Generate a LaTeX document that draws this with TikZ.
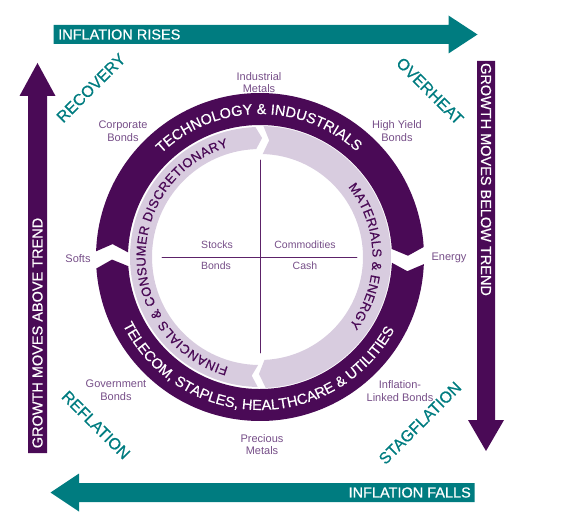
\documentclass[tikz,border=0pt]{standalone}
\usepackage{fontspec}
\setmainfont{Liberation Sans}
\newfontfamily\heavycaps[FakeBold=0.6]{Liberation Sans}

\definecolor{infteal}{RGB}{0,124,128}
\definecolor{ringdark}{RGB}{74,10,86}
\definecolor{ringlight}{RGB}{216,204,223}
\definecolor{assetpurple}{RGB}{118,78,136}
\definecolor{quadpurple}{RGB}{92,34,104}

\newcommand\ringcaps{\heavycaps\fontsize{14.5}{14.5}\selectfont\color{white}}
\newcommand\innercaps{\heavycaps\fontsize{13}{13}\selectfont\color{ringdark}}

% letters set one by one round a circle about the origin
% #1 name, #2 baseline radius, #3 centre angle, #4 span in degrees (0 = natural),
% #5 font, #6 1 = tops outward (clockwise), -1 = tops inward, #7 letters
\newlength\rtlen
\newcommand\rtmeasure[2]{\settowidth{\rtlen}{\pgfinterruptpicture#1#2\endpgfinterruptpicture}}
\newcommand\ringtext[7]{%
  \gdef\rtw{0}\gdef\rtn{0}%
  \foreach \ch in {#7}{%
    \rtmeasure{#5}{\ch}%
    \pgfmathsetmacro\rttmp{\rtw+\rtlen}\xdef\rtw{\rttmp}%
    \pgfmathsetmacro\rttmp{\rtn+1}\xdef\rtn{\rttmp}}%
  \pgfmathsetmacro\rtgap{ifthenelse(#4>0,(rad(#4)*#2-\rtw)/(\rtn-1),0)}%
  \pgfmathsetmacro\rttmp{#3+(#6)*deg((\rtw+(\rtn-1)*\rtgap)/(2*#2))}\xdef\rtang{\rttmp}%
  \foreach \ch [count=\rti] in {#7}{%
    \rtmeasure{#5}{\ch}%
    \pgfmathsetmacro\rtpos{\rtang-(#6)*deg(\rtlen/(2*#2))}%
    \pgfmathsetmacro\rtrot{\rtpos-(#6)*90}%
    \node[inner sep=0pt, anchor=base, rotate=\rtrot] (#1-\rti) at (\rtpos:#2) {#5\ch};%
    \pgfmathsetmacro\rttmp{\rtang-(#6)*deg((\rtlen+\rtgap)/#2)}\xdef\rtang{\rttmp}}%
}

\tikzset{
  caps/.style={font=\heavycaps\fontsize{14.5}{14.5}\selectfont, text=white, inner sep=0pt},
  phase/.style={font=\heavycaps\fontsize{16}{16}\selectfont, text=infteal, inner sep=0pt},
  asset/.style={font=\fontsize{11}{12.5}\selectfont, text=assetpurple, align=center, inner sep=0pt},
  quad/.style={font=\fontsize{10.5}{12.5}\selectfont, text=assetpurple, inner sep=0pt}
}

\begin{document}
\begin{tikzpicture}[x=1pt,y=1pt,line cap=round,line join=round]
  \useasboundingbox (0,0) rectangle (567,515);

  % inflation arrows
  \fill[infteal] (53.5,471) -- (448.5,471) -- (448.5,461.5) -- (477.5,480.5)
    -- (448.5,499.5) -- (448.5,490) -- (53.5,490) -- cycle;
  \fill[infteal] (474.5,13) -- (79,13) -- (79,3.5) -- (50.5,22.5)
    -- (79,41.5) -- (79,32) -- (474.5,32) -- cycle;
  \node[caps, anchor=west] (rises) at (58,480.5) {INFLATION RISES};
  \node[caps, anchor=east] (falls) at (471,22.5) {INFLATION FALLS};

  % growth arrows
  \fill[ringdark] (28,62) -- (47,62) -- (47,419) -- (55.5,419) -- (37.5,452)
    -- (19.5,419) -- (28,419) -- cycle;
  \fill[ringdark] (477,454) -- (495,454) -- (495,95) -- (504,95) -- (486,64)
    -- (468,95) -- (477,95) -- cycle;
  \node[caps, rotate=90] (above) at (37.5,182) {GROWTH MOVES ABOVE TREND};
  \node[caps, rotate=-90] (below) at (486,335.5) {GROWTH MOVES BELOW TREND};

  \node[phase, rotate=45] (recovery) at (91,427) {RECOVERY};
  \node[phase, rotate=-45] (overheat) at (430,424) {OVERHEAT};
  \node[phase, rotate=-45] (reflation) at (96,90) {REFLATION};
  \node[phase, rotate=45] (stagflation) at (420,92) {STAGFLATION};

  \node[asset] (indmetals) at (259,432.5) {Industrial\\Metals};
  \node[asset] (corporate) at (123,384) {Corporate\\Bonds};
  \node[asset] (highyield) at (397,384) {High Yield\\Bonds};
  \node[asset] (softs) at (78,256) {Softs};
  \node[asset] (energy) at (449,257) {Energy};
  \node[asset] (government) at (116,125) {Government\\Bonds};
  \node[asset] (linked) at (400,124) {Inflation-\\Linked Bonds};
  \node[asset] (precious) at (262,70.5) {Precious\\Metals};

  \begin{scope}[shift={(260,258)}]
    % outer sector ring
    \fill[ringdark] (178:164) arc[start angle=178, end angle=3.5, radius=164]
      -- (0.5:148) -- (3.5:132) arc[start angle=3.5, end angle=178, radius=132]
      -- (175:148) -- cycle;
    \fill[ringdark] (-2.5:164) arc[start angle=-2.5, end angle=-176, radius=164]
      -- (-179:148) -- (-176:132) arc[start angle=-176, end angle=-2.5, radius=132]
      -- (-5.5:148) -- cycle;
    \ringtext{tech}{143}{90.5}{0}{\ringcaps}{1}{T,E,C,H,N,O,L,O,G,Y,~,\&,~,I,N,D,U,S,T,R,I,A,L,S}
    \ringtext{tele}{153}{269}{0}{\ringcaps}{-1}{T,E,L,E,C,O,M,{,},~,S,T,A,P,L,E,S,{,},~,H,E,A,L,T,H,C,A,R,E,~,\&,~,U,T,I,L,I,T,I,E,S}

    % inner sector ring
    \fill[ringlight] (92:130) arc[start angle=92, end angle=269, radius=130]
      -- (266:119) -- (269:108) arc[start angle=269, end angle=92, radius=108]
      -- (89:119) -- cycle;
    \fill[ringlight] (88.5:131) arc[start angle=88.5, end angle=-87.5, radius=131]
      -- (-90.5:117) -- (-87.5:103) arc[start angle=-87.5, end angle=88.5, radius=103]
      -- (85.5:117) -- cycle;
    \ringtext{cons}{114.5}{180}{148}{\innercaps}{1}{F,I,N,A,N,C,I,A,L,S,~,\&,~,C,O,N,S,U,M,E,R,~,D,I,S,C,R,E,T,I,O,N,A,R,Y}
    \ringtext{mat}{112.5}{0.5}{76}{\innercaps}{1}{M,A,T,E,R,I,A,L,S,~,\&,~,E,N,E,R,G,Y}

    % asset classes
    \draw[quadpurple, line width=0.8pt] (-98,0) -- (97,0);
    \draw[quadpurple, line width=0.8pt] (0,97) -- (0,-96);
    \node[quad] (stocks) at (-43,12) {Stocks};
    \node[quad] (commod) at (45,12) {Commodities};
    \node[quad] (bonds) at (-44,-9) {Bonds};
    \node[quad] (cash) at (45,-9) {Cash};
  \end{scope}
\end{tikzpicture}
\end{document}
